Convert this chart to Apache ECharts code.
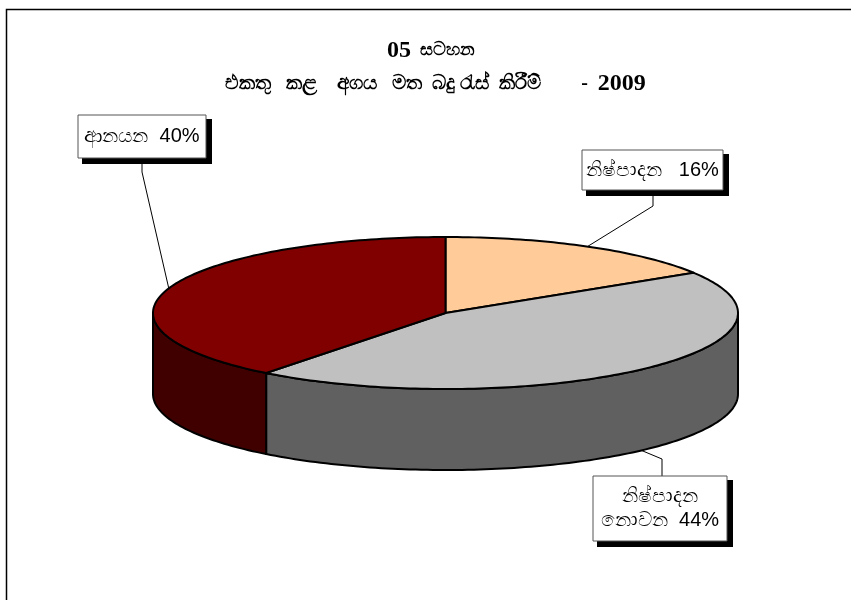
<!DOCTYPE html>
<html><head><meta charset="utf-8">
<style>html,body{margin:0;padding:0;background:#fff}#c{width:851px;height:600px}</style>
<script src="https://cdn.jsdelivr.net/npm/echarts@6/dist/echarts.min.js"></script>
</head><body><div id="c"></div>
<script>
const titleLine1 = ['05', '  සටහන  '];
const titleLine2 = ['එකතු   කළ    අගය   මත  බදු රැස්  කිරීම්        -  ', '2009'];
const categories = ['නිෂ්පාදන', 'නිෂ්පාදන නොවන', 'ආනයන'];
const values = [16, 44, 40];
const labelLines = [['නිෂ්පාදන   16%'], ['නිෂ්පාදන', 'නොවන  44%'], ['ආනයන  40%']];
const topColors = ['#FFCC99', '#C0C0C0', '#800000'];
const sideColors = ['#806650', '#606060', '#400000'];

const cx = 445.5, cy = 313, rx = 292.5, ry = 76, depth = 81;
const boxes = [
  {x: 582, y: 150, w: 141, h: 40, elbow: [[653, 190], [653, 206]], onSide: false},
  {x: 593, y: 476, w: 134, h: 65, elbow: [[662, 476], [662, 459]], onSide: true},
  {x: 78, y: 115, w: 128, h: 43, elbow: [[142, 158], [142, 172]], onSide: false}
];
const total = values.reduce((a, b) => a + b, 0);
// slight perspective of the tilted disc: angles on the near side are pushed round a little
const view = t => t + 0.0175 * (1 - Math.cos(t));
const rim = (t, dy) => [cx + rx * Math.sin(t), cy - ry * Math.cos(t) + (dy || 0)];
function arc(a, b, dy) {
  const n = Math.max(2, Math.ceil(Math.abs(b - a) / 0.02)), pts = [];
  for (let i = 0; i <= n; i++) pts.push(rim(a + (b - a) * i / n, dy));
  return pts;
}
const stroke = {stroke: '#000', lineWidth: 2, lineJoin: 'round'};
function renderItem(params, api) {
  const i = params.dataIndex;
  const before = values.slice(0, i).reduce((a, b) => a + b, 0);
  const a0 = view(before / total * 2 * Math.PI), a1 = view((before + values[i]) / total * 2 * Math.PI);
  const kids = [];
  const s0 = Math.max(a0, Math.PI / 2), s1 = Math.min(a1, 3 * Math.PI / 2);
  if (s1 > s0) {
    kids.push({type: 'polygon', z2: 1,
      shape: {points: arc(s0, s1, 0).concat(arc(s1, s0, depth))},
      style: Object.assign({fill: sideColors[i]}, stroke)});
  }
  kids.push({type: 'polygon', z2: 2,
    shape: {points: [[cx, cy]].concat(arc(a0, a1, 0))},
    style: Object.assign({fill: topColors[i]}, stroke)});
  const b = boxes[i], mid = (a0 + a1) / 2;
  kids.push({type: 'polyline', z2: 3,
    shape: {points: b.elbow.concat([rim(mid, b.onSide ? depth : 0)])},
    style: {stroke: '#000', lineWidth: 1, fill: null}});
  kids.push({type: 'rect', z2: 4, shape: {x: b.x + 4, y: b.y + 4, width: b.w + 2, height: b.h + 2}, style: {fill: '#000'}});
  kids.push({type: 'rect', z2: 5, shape: {x: b.x, y: b.y, width: b.w, height: b.h},
    style: {fill: '#fff', stroke: '#555', lineWidth: 1}});
  kids.push({type: 'text', z2: 6,
    style: {x: b.x + b.w / 2, y: b.y + b.h / 2, text: labelLines[i].join('\n'),
      align: 'center', verticalAlign: 'middle', fill: '#000', lineHeight: 24,
      font: '20px "Liberation Sans", "Noto Sans", sans-serif'}});
  return {type: 'group', children: kids};
}
const chart = echarts.init(document.getElementById('c'), null, {renderer: 'canvas'});
chart.setOption({
  animation: false,
  backgroundColor: '#fff',
  title: {
    text: '{d|' + titleLine1[0] + '}{a|' + titleLine1[1] + '}\n{s|' + titleLine2[0] + '}{d|' + titleLine2[1] + '}',
    left: 430.5, top: 29, textAlign: 'center',
    textStyle: {
      fontFamily: '"Liberation Serif", serif', fontWeight: 'bold', color: '#000',
      rich: {
        d: {fontFamily: '"Liberation Serif", serif', fontWeight: 'bold', fontSize: 24, lineHeight: 33, color: '#000'},
        a: {fontFamily: '"Liberation Serif", serif', fontWeight: 'bold', fontSize: 18, lineHeight: 33, color: '#000'},
        s: {fontFamily: '"Liberation Serif", serif', fontWeight: 'bold', fontSize: 20, lineHeight: 33, color: '#000'}
      }
    }
  },
  graphic: [{type: 'polyline', shape: {points: [[6.5, 600], [6.5, 9.5], [851, 9.5]]}, style: {stroke: '#000', lineWidth: 1.5, fill: null}}],
  series: [{
    type: 'custom', coordinateSystem: 'none', renderItem,
    data: values.map((v, i) => ({name: categories[i], value: v}))
  }]
});
</script></body></html>
